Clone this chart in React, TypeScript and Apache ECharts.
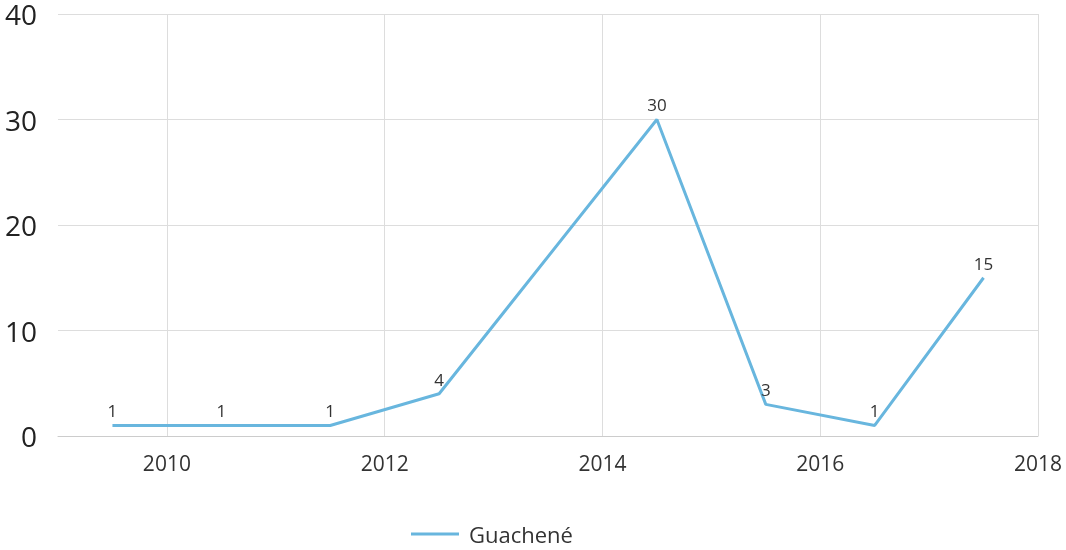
import React, { useEffect, useRef } from "react";
import * as echarts from "echarts";

const years = [2009.5, 2010.5, 2011.5, 2012.5, 2014.5, 2015.5, 2016.5, 2017.5];
const values = [1, 1, 1, 4, 30, 3, 1, 15];
const seriesName = "Guachené";

export default function App() {
  const ref = useRef<HTMLDivElement>(null);
  useEffect(() => {
    const chart = echarts.init(ref.current!, null, { renderer: "svg" });
    chart.setOption({
      animation: false,
      textStyle: { fontFamily: "Open Sans" },
      grid: { left: 58, right: 28, top: 14, bottom: 114, containLabel: false },
      legend: {
        data: [{ name: seriesName, icon: "rect", itemStyle: { color: "#68b6de" } }],
        left: 406,
        top: 518,
        itemWidth: 48,
        itemHeight: 3,
        itemGap: 10,
        textStyle: { fontSize: 22, color: "#333", fontFamily: "Open Sans", padding: [0, 0, 0, 5] },
      },
      xAxis: {
        type: "value",
        min: 2009,
        max: 2018,
        interval: 1,
        axisLine: { show: true, lineStyle: { color: "#ccc" } },
        axisTick: { show: false },
        axisLabel: {
          fontSize: 21,
          color: "#333",
          margin: 16,
          formatter: (v: number) => (v % 2 === 0 ? String(v) : ""),
        },
        splitLine: { show: true, lineStyle: { color: ["rgba(0,0,0,0)", "#ddd"] } },
      },
      yAxis: {
        type: "value",
        min: 0,
        max: 40,
        interval: 10,
        axisLine: { show: false },
        axisTick: { show: false },
        axisLabel: { fontSize: 28, lineHeight: 26, color: "#222", margin: 21 },
        splitLine: { show: true, lineStyle: { color: "#ddd" } },
      },
      series: [
        {
          name: seriesName,
          type: "line",
          data: years.map((y, i) => [y, values[i]]),
          symbol: "circle",
          symbolSize: 0.1,
          showSymbol: true,
          lineStyle: { color: "#68b6de", width: 3 },
          itemStyle: { color: "#68b6de" },
          label: { show: true, position: "top", fontSize: 17, color: "#333", distance: 6 },
        },
      ],
    });
    return () => chart.dispose();
  }, []);
  return (
    <div
      ref={ref}
      style={{ width: 1066, height: 550, position: "fixed", left: 0, top: 0 }}
    />
  );
}
